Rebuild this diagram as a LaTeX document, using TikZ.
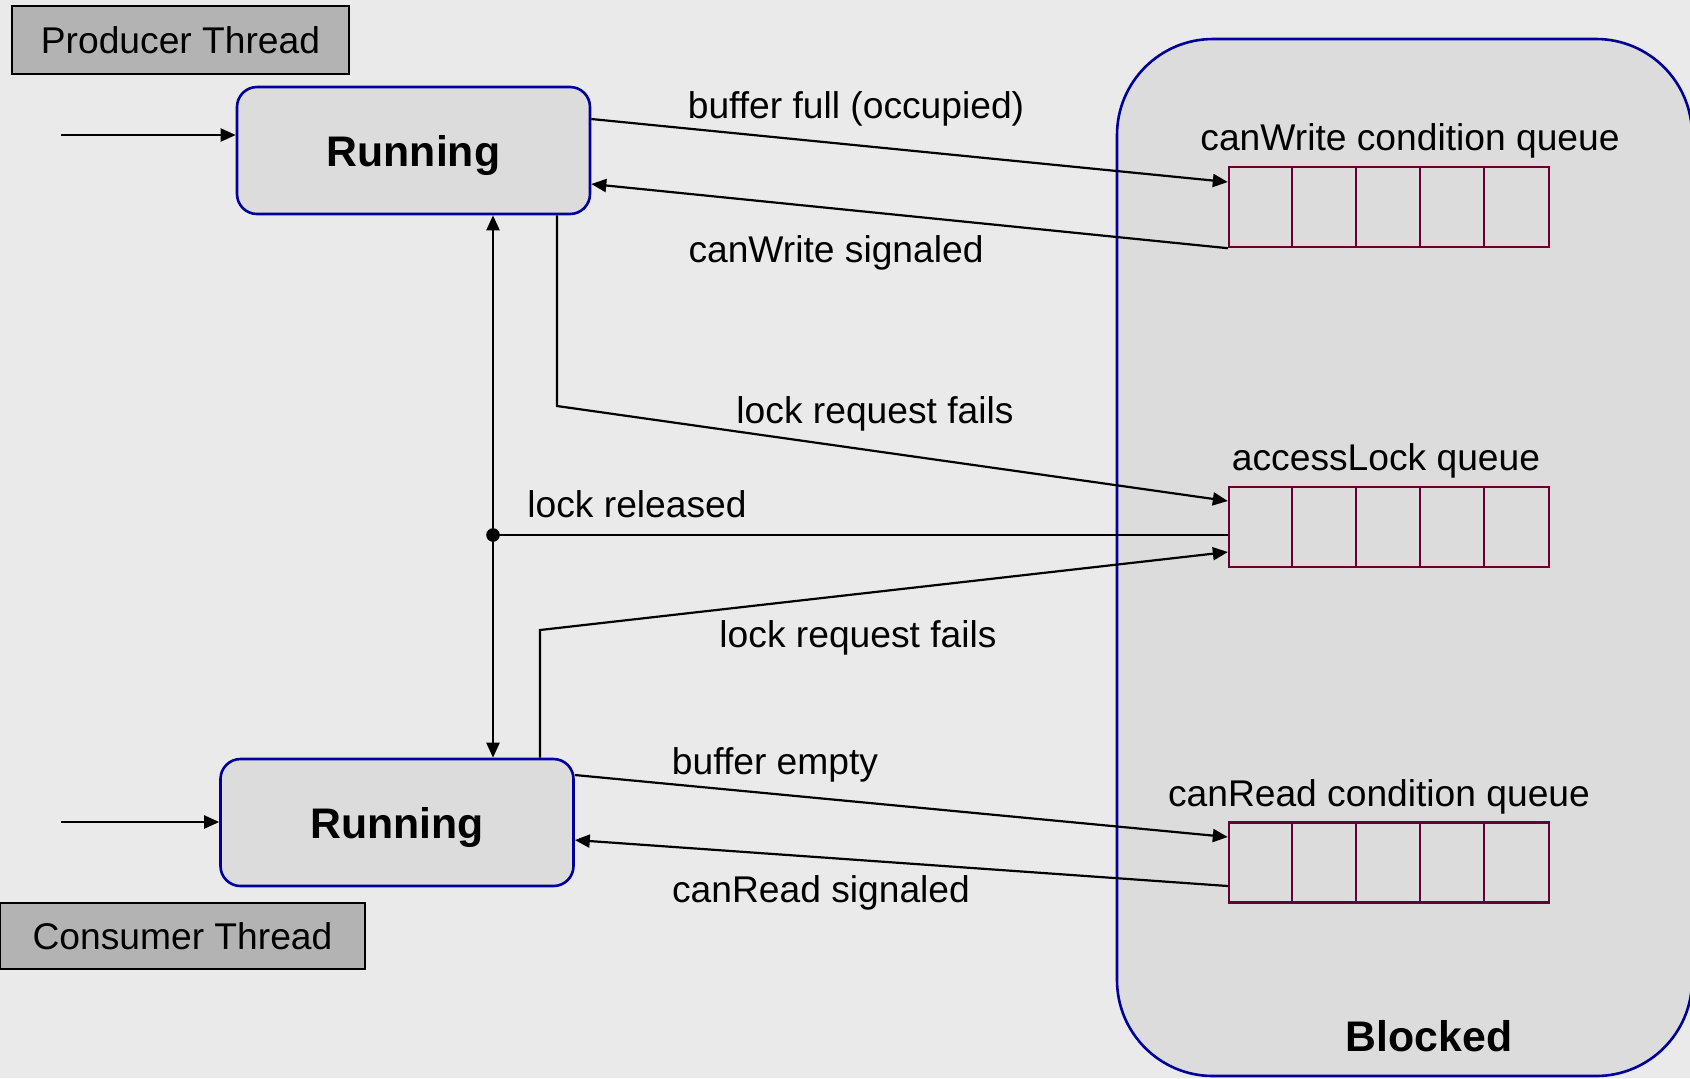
\documentclass[tikz,border=0pt]{standalone}
\usepackage{fontspec}
\setmainfont{Liberation Sans}
\usetikzlibrary{arrows.meta,calc}
\definecolor{bg}{HTML}{EAEAEA}
\definecolor{boxfill}{HTML}{DCDCDC}
\definecolor{thr}{HTML}{B3B3B3}
\definecolor{navy}{HTML}{000099}
\definecolor{qcol}{HTML}{660033}
\begin{document}
\begin{tikzpicture}[x=0.5pt,y=-0.5pt,
  runbox/.style={draw=navy,line width=1.3pt,fill=boxfill,rounded corners=10pt,minimum width=176.5pt,minimum height=63.5pt,inner sep=0pt,font=\fontsize{21.4}{24}\selectfont\bfseries,text height=15.5pt,text depth=0pt},
  thrbox/.style={draw=black,line width=1.4pt,fill=thr,inner sep=0pt,font=\fontsize{18.6}{21}\selectfont,text height=13.3pt,text depth=0pt},
  blockbox/.style={draw=navy,line width=1.3pt,fill=boxfill,rounded corners=48pt,inner sep=0pt},
  queue/.style={draw=qcol,line width=1.2pt,minimum width=160pt,minimum height=40pt,inner sep=0pt},
  lbl/.style={font=\fontsize{18.6}{21}\selectfont,inner sep=0pt,text height=13.3pt,text depth=0pt},
  blbl/.style={font=\fontsize{21.4}{24}\selectfont\bfseries,inner sep=0pt,text height=15.5pt,text depth=0pt},
  tip/.tip={Triangle[length=7.5pt,width=6.5pt]},
  conn/.style={line width=1.1pt,-tip},
  plain/.style={line width=1.1pt},
]
\fill[bg] (0,0) rectangle (1690,1078);
\useasboundingbox (0,0) rectangle (1690,1078);

% Blocked container
\node[blockbox,minimum width=287.5pt,minimum height=518.5pt] (blocked) at (1404.5,557.5) {};
\node[blbl] (blockedlbl) at (1429,1036) {Blocked};

% queues
\node[queue] (cw) at (1389,207) {};
\node[queue] (al) at (1389,527) {};
\node[queue] (cr) at (1389,862.5) {};
\foreach \q in {cw,al,cr}{
  \foreach \i in {1,...,4}{
    \draw[qcol,line width=1.2pt] ($(\q.north west)+(\i*64,0)$) -- ($(\q.south west)+(\i*64,0)$);
  }
}
\node[lbl] (cwlbl) at (1410,137) {canWrite condition queue};
\node[lbl] (allbl) at (1386,457) {accessLock queue};
\node[lbl] (crlbl) at (1379,793) {canRead condition queue};

% thread boxes
\node[thrbox,minimum width=168.5pt,minimum height=34pt] (pth) at (180.5,40) {Producer Thread};
\node[thrbox,minimum width=182.5pt,minimum height=33pt] (cth) at (182.5,936) {Consumer Thread};

% running states
\node[runbox] (prun) at (413.5,150.5) {Running};
\node[runbox] (crun) at (397,822.5) {Running};

% entry arrows
\coordinate (pin) at (61,135);
\coordinate (cin) at (61,822);
\draw[conn] (pin) -- (pin -| prun.west);
\draw[conn] (cin) -- (cin -| crun.west);

% producer <-> canWrite
\draw[conn] ([yshift=15.75pt]prun.east) -- ([yshift=12.5pt]cw.west);
\draw[conn] (cw.south west) -- ([yshift=-16.75pt]prun.east);
\node[lbl] at (856,105) {buffer full (occupied)};
\node[lbl] at (836,249) {canWrite signaled};

% producer lock request fails
\coordinate (pbend) at (557,406);
\draw[conn] (pbend |- prun.south) -- (pbend) -- ([yshift=13pt]al.west);
\node[lbl] at (875,410) {lock request fails};

% lock released
\coordinate (dot) at (493,535);
\draw[plain,tip-tip] (dot |- prun.south) -- (dot |- crun.north);
\fill (dot) circle (3.4pt);
\draw[plain] (dot) -- (dot -| al.west);
\node[lbl] at (637,504) {lock released};

% consumer lock request fails
\coordinate (cbend) at (540,630);
\draw[conn] (cbend |- crun.north) -- (cbend) -- ([yshift=-12.5pt]al.west);
\node[lbl] at (858,634) {lock request fails};

% consumer <-> canRead
\draw[conn] ([yshift=23.75pt]crun.east) -- ([yshift=12.75pt]cr.west);
\draw[conn] ([yshift=-11.75pt]cr.west) -- ([yshift=-8.75pt]crun.east);
\node[lbl] at (775,761) {buffer empty};
\node[lbl] at (821,889) {canRead signaled};
\end{tikzpicture}
\end{document}
